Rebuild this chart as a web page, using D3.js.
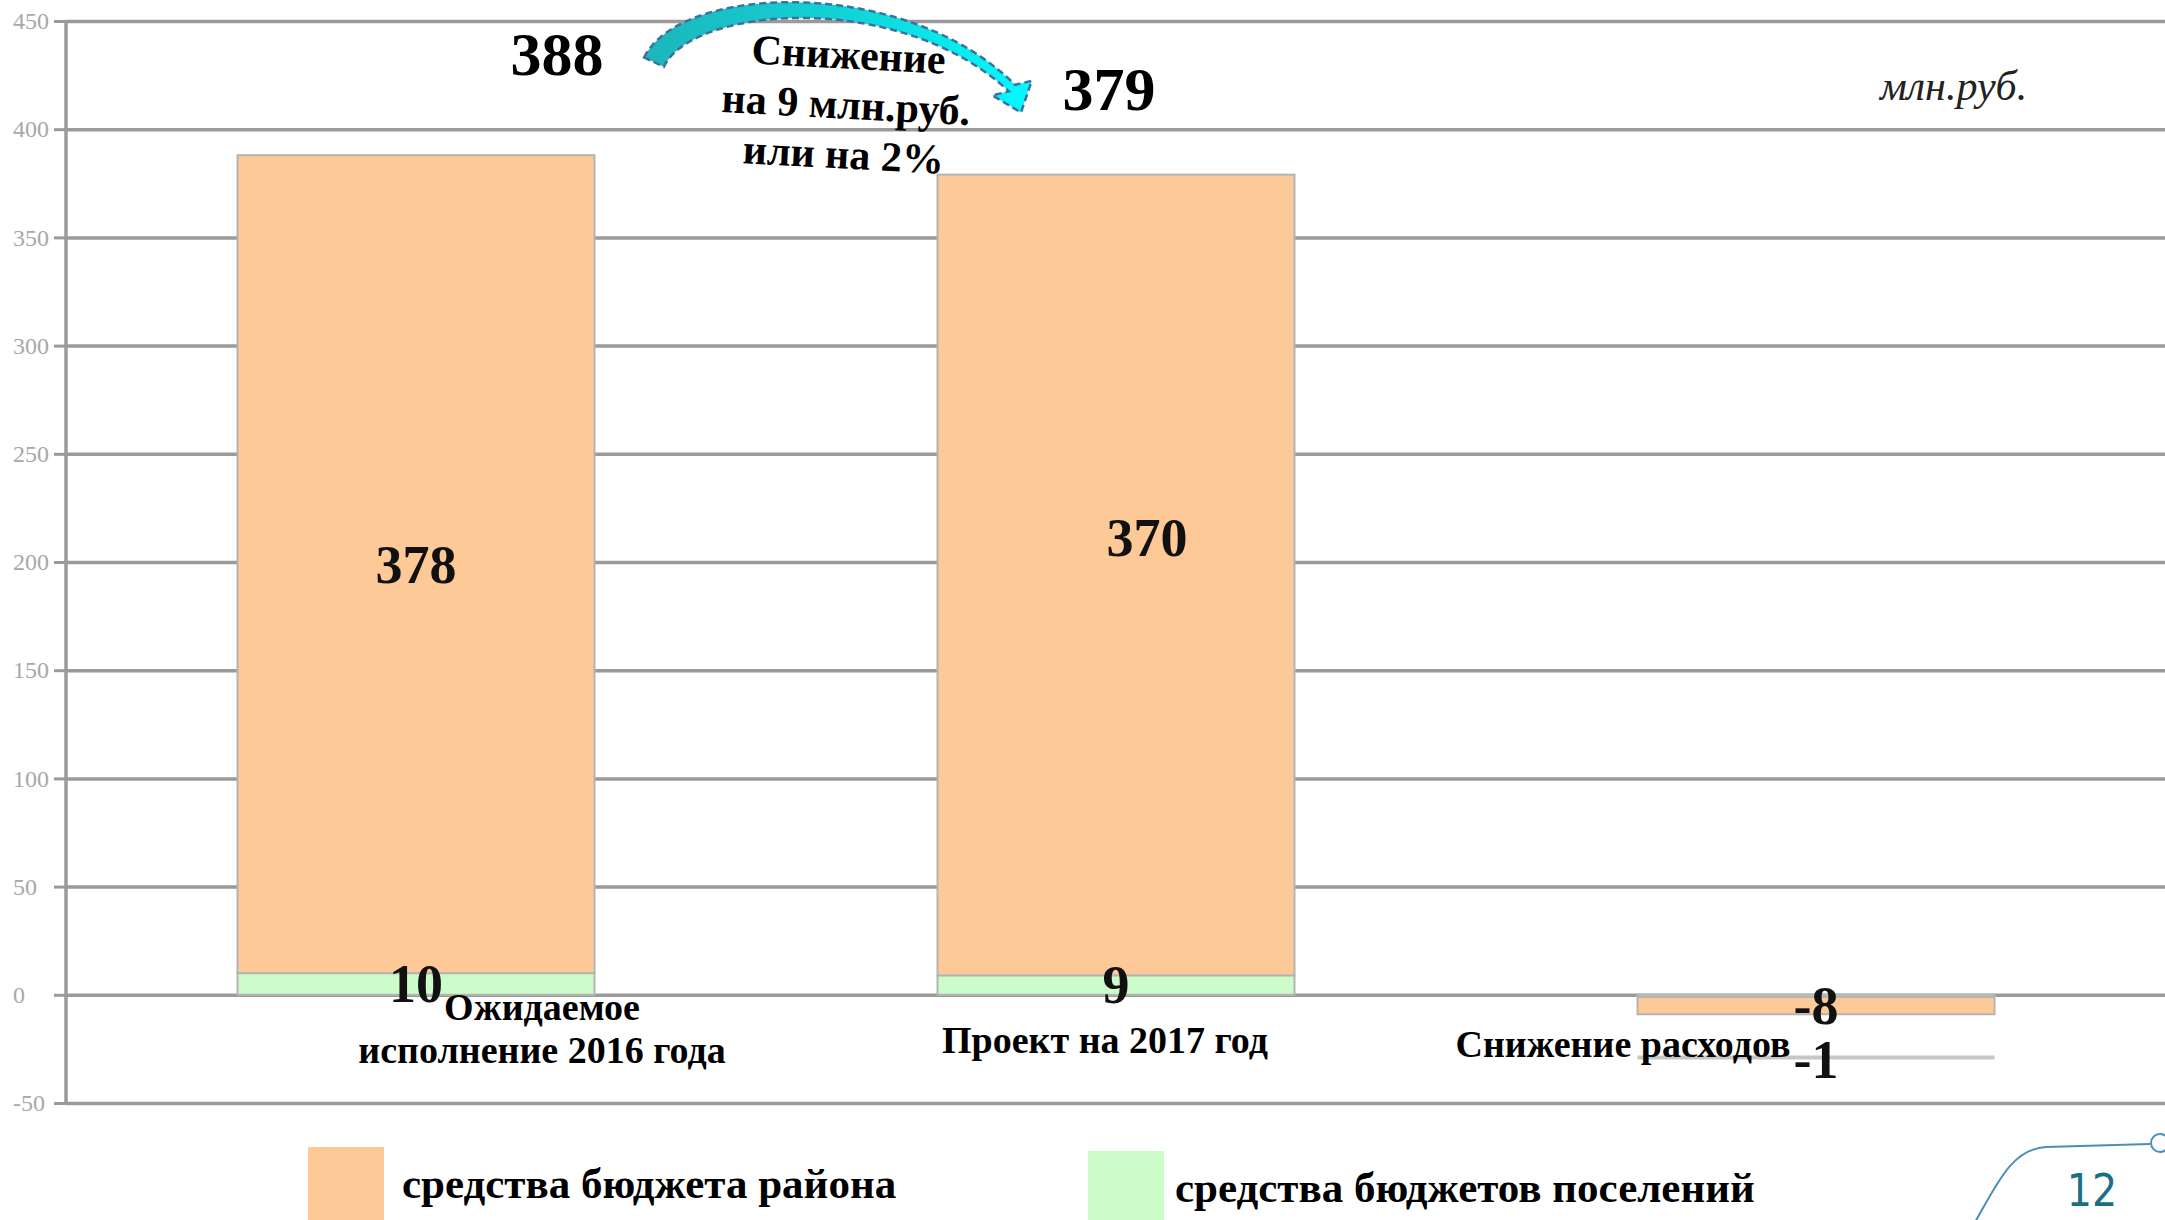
<!DOCTYPE html>
<html>
<head>
<meta charset="utf-8">
<script src="https://cdn.jsdelivr.net/npm/d3@7"></script>
<style>
  html, body { margin: 0; padding: 0; background: #fff; }
  svg { display: block; }
  text { font-family: "Liberation Serif", "Times New Roman", serif; }
</style>
</head>
<body>
<svg></svg>
<script>
const width = 2165,
      height = 1220;

// data
const categories = ['Ожидаемое исполнение 2016 года', 'Проект на 2017 год', 'Снижение расходов'];
const districtFunds = [378, 370, -8];
const settlementFunds = [10, 9, -1];
const totals = [388, 379];
const yTicks = [-50, 0, 50, 100, 150, 200, 250, 300, 350, 400, 450];
const seriesNames = ['средства бюджета района', 'средства бюджетов поселений'];
const changeText = ['Снижение', 'на 9 млн.руб.', 'или на 2%'];

const colors = { district: '#fdc996', settlements: '#ccfcc8' };

const rows = categories.map((c, i) => ({ cat: c, settlements: settlementFunds[i], district: districtFunds[i] }));

const x = d3.scaleBand()
  .domain(categories)
  .range([66, 2166])
  .paddingInner(0.49)
  .paddingOuter(0.245);

const y = d3.scaleLinear()
  .domain([-50, 450])
  .range([1103, 21]);

const xc = (i) => x(categories[i]) + x.bandwidth() / 2;

const svg = d3.select('svg')
  .attr('width', width)
  .attr('height', height);

// grid
const grid = svg.append('g')
  .attr('transform', 'translate(66,0)')
  .call(d3.axisLeft(y).tickValues(yTicks).tickSize(-2100).tickFormat(''));
grid.select('.domain').remove();
grid.selectAll('line').attr('stroke', '#9a9a9a').attr('stroke-width', 3.5);

// axis with ticks and labels
const axis = svg.append('g')
  .attr('transform', 'translate(66,0)')
  .call(d3.axisLeft(y).tickValues(yTicks).tickSize(12).tickFormat((d) => String(d)));
axis.select('.domain').attr('stroke', '#9a9a9a').attr('stroke-width', 3.5)
  .attr('d', `M0,${y(450)}V${y(-50)}`);
axis.selectAll('.tick line').attr('stroke', '#9a9a9a').attr('stroke-width', 3);
axis.selectAll('.tick text')
  .attr('x', -53)
  .attr('text-anchor', 'start')
  .attr('fill', '#a8a8a8')
  .style('font-family', '"Liberation Serif", serif')
  .style('font-size', '24px');

// stacked bars
const stack = d3.stack()
  .keys(['settlements', 'district'])
  .offset(d3.stackOffsetDiverging);
const series = stack(rows);

svg.append('g')
  .selectAll('g')
  .data(series)
  .join('g')
    .attr('fill', (s) => colors[s.key])
  .selectAll('rect')
  .data((s) => s)
  .join('rect')
    .attr('x', (d) => x(d.data.cat))
    .attr('width', x.bandwidth())
    .attr('y', (d) => y(Math.max(d[0], d[1])))
    .attr('height', (d) => Math.abs(y(d[0]) - y(d[1])))
    .attr('stroke', '#b4b4b4')
    .attr('stroke-width', 2);

// stray line of the settlement value under the third bar
svg.append('line')
  .attr('x1', x(categories[2]))
  .attr('x2', x(categories[2]) + x.bandwidth())
  .attr('y1', y(-29))
  .attr('y2', y(-29))
  .attr('stroke', '#c2c8c2')
  .attr('stroke-width', 4);

// segment labels
const labelShift = {
  district: [[0, 0], [31, -37], [0, 0]],
  settlements: [[0, 0], [0, 0], [0, 64]]
};
series.forEach((s) => {
  svg.append('g')
    .selectAll('text')
    .data(s)
    .join('text')
      .attr('x', (d, i) => xc(i) + labelShift[s.key][i][0])
      .attr('y', (d, i) => (y(d[0]) + y(d[1])) / 2 + labelShift[s.key][i][1])
      .attr('dy', '0.34em')
      .attr('text-anchor', 'middle')
      .style('font-size', '54px')
      .style('font-weight', 'bold')
      .attr('fill', '#111')
      .text((d) => d.data[s.key]);
});

// category labels
const catShift = [[126, 1020], [-11, 1053], [-193, 1057]];
const catLines = [['Ожидаемое', 'исполнение 2016 года'], ['Проект на 2017 год'], ['Снижение расходов']];
svg.append('g')
  .selectAll('text')
  .data(categories)
  .join('text')
    .attr('x', (d, i) => xc(i) + catShift[i][0])
    .attr('y', (d, i) => catShift[i][1])
    .attr('text-anchor', 'middle')
    .style('font-size', '38px')
    .style('font-weight', 'bold')
    .attr('fill', '#000')
  .selectAll('tspan')
  .data((d, i) => catLines[i].map((t) => ({ t, i })))
  .join('tspan')
    .attr('x', (d) => xc(d.i) + catShift[d.i][0])
    .attr('dy', (d, j) => j === 0 ? 0 : 43)
    .text((d) => d.t);

// totals above
const totalPos = [[xc(0) + 141, y(425)], [xc(1) - 7, y(409)]];
svg.append('g')
  .selectAll('text')
  .data(totals)
  .join('text')
    .attr('x', (d, i) => totalPos[i][0])
    .attr('y', (d, i) => totalPos[i][1])
    .attr('text-anchor', 'middle')
    .style('font-size', '62px')
    .style('font-weight', 'bold')
    .text((d) => d);

// curved arrow
const defs = svg.append('defs');
const grad = defs.append('linearGradient')
  .attr('id', 'arrowGrad')
  .attr('x1', '0').attr('x2', '1').attr('y1', '0').attr('y2', '0');
grad.append('stop').attr('offset', '0').attr('stop-color', '#1cb6bc');
grad.append('stop').attr('offset', '0.5').attr('stop-color', '#12d2d6');
grad.append('stop').attr('offset', '1').attr('stop-color', '#00fbff');

const p0 = [totalPos[0][0] + 97, y(431)],
      p3 = [xc(1) - 104, y(419)],
      p1 = [p0[0] + 32, y(462)],
      p2 = [p3[0] - 110, y(468)];

function bez(t, a, b, c, d) {
  const u = 1 - t;
  return u * u * u * a + 3 * u * u * t * b + 3 * u * t * t * c + t * t * t * d;
}
function bezD(t, a, b, c, d) {
  const u = 1 - t;
  return 3 * u * u * (b - a) + 6 * u * t * (c - b) + 3 * t * t * (d - c);
}
const outer = [], inner = [];
d3.range(0, 1.0001, 0.02).forEach((t) => {
  const px = bez(t, p0[0], p1[0], p2[0], p3[0]),
        py = bez(t, p0[1], p1[1], p2[1], p3[1]),
        dx = bezD(t, p0[0], p1[0], p2[0], p3[0]),
        dy = bezD(t, p0[1], p1[1], p2[1], p3[1]),
        len = Math.hypot(dx, dy),
        nx = -dy / len, ny = dx / len,
        w = (22 - 13 * t) / 2;
  outer.push([px - nx * w, py - ny * w]);
  inner.push([px + nx * w, py + ny * w]);
});
// head turned a little further down than the shaft
const ang = Math.atan2(p3[1] - p2[1], p3[0] - p2[0]) + 0.45;
const ux = Math.cos(ang), uy = Math.sin(ang), nx = -uy, ny = ux;
const tip = [p3[0] + ux * 26, p3[1] + uy * 26];
const wingA = [p3[0] - nx * 21, p3[1] - ny * 21];
const wingB = [p3[0] + nx * 21, p3[1] + ny * 21];
const arrowPts = outer.concat([wingA, tip, wingB]).concat(inner.slice().reverse());

svg.append('path')
  .attr('d', d3.line()(arrowPts) + 'Z')
  .attr('fill', 'url(#arrowGrad)')
  .attr('stroke', '#41709c')
  .attr('stroke-width', 2.5)
  .attr('stroke-dasharray', '7,4');

// change note
const noteX = (xc(0) + xc(1)) / 2 + 79;
svg.append('text')
  .attr('transform', `rotate(3, ${noteX}, ${y(402)})`)
  .attr('text-anchor', 'middle')
  .style('font-size', '42px')
  .style('font-weight', 'bold')
  .selectAll('tspan')
  .data(changeText)
  .join('tspan')
    .attr('x', noteX)
    .attr('y', (d, i) => y(428) + i * 50)
    .text((d) => d);

// units
svg.append('text')
  .attr('x', 1880)
  .attr('y', 100)
  .style('font-size', '42px')
  .style('font-style', 'italic')
  .attr('fill', '#222')
  .text('млн.руб.');

// legend
const legendX = [308, 1088];
const legendY = [1147, 1151];
const legend = svg.append('g')
  .selectAll('g')
  .data(seriesNames)
  .join('g');
legend.append('rect')
  .attr('x', (d, i) => legendX[i])
  .attr('y', (d, i) => legendY[i])
  .attr('width', 76)
  .attr('height', (d, i) => height - legendY[i])
  .attr('fill', (d, i) => i === 0 ? colors.district : colors.settlements);
legend.append('text')
  .attr('x', (d, i) => legendX[i] + (i === 0 ? 94 : 87))
  .attr('y', (d, i) => legendY[i] + 51)
  .style('font-size', '43px')
  .style('font-weight', 'bold')
  .text((d) => d);

// slide decoration and page number
svg.append('path')
  .attr('d', 'M1974,1224 C1998,1182 2012,1149 2046,1147 L2150,1144')
  .attr('fill', 'none')
  .attr('stroke', '#4a8fb5')
  .attr('stroke-width', 2);
svg.append('circle')
  .attr('cx', 2160)
  .attr('cy', 1143)
  .attr('r', 9)
  .attr('fill', '#fff')
  .attr('stroke', '#4a8fb5')
  .attr('stroke-width', 2);
svg.append('text')
  .attr('x', 2092)
  .attr('y', 1206)
  .attr('text-anchor', 'middle')
  .attr('fill', '#1b6f85')
  .style('font-family', '"Liberation Sans Narrow", "DejaVu Sans Condensed", sans-serif')
  .style('font-size', '44px')
  .text('12');
</script>
</body>
</html>
